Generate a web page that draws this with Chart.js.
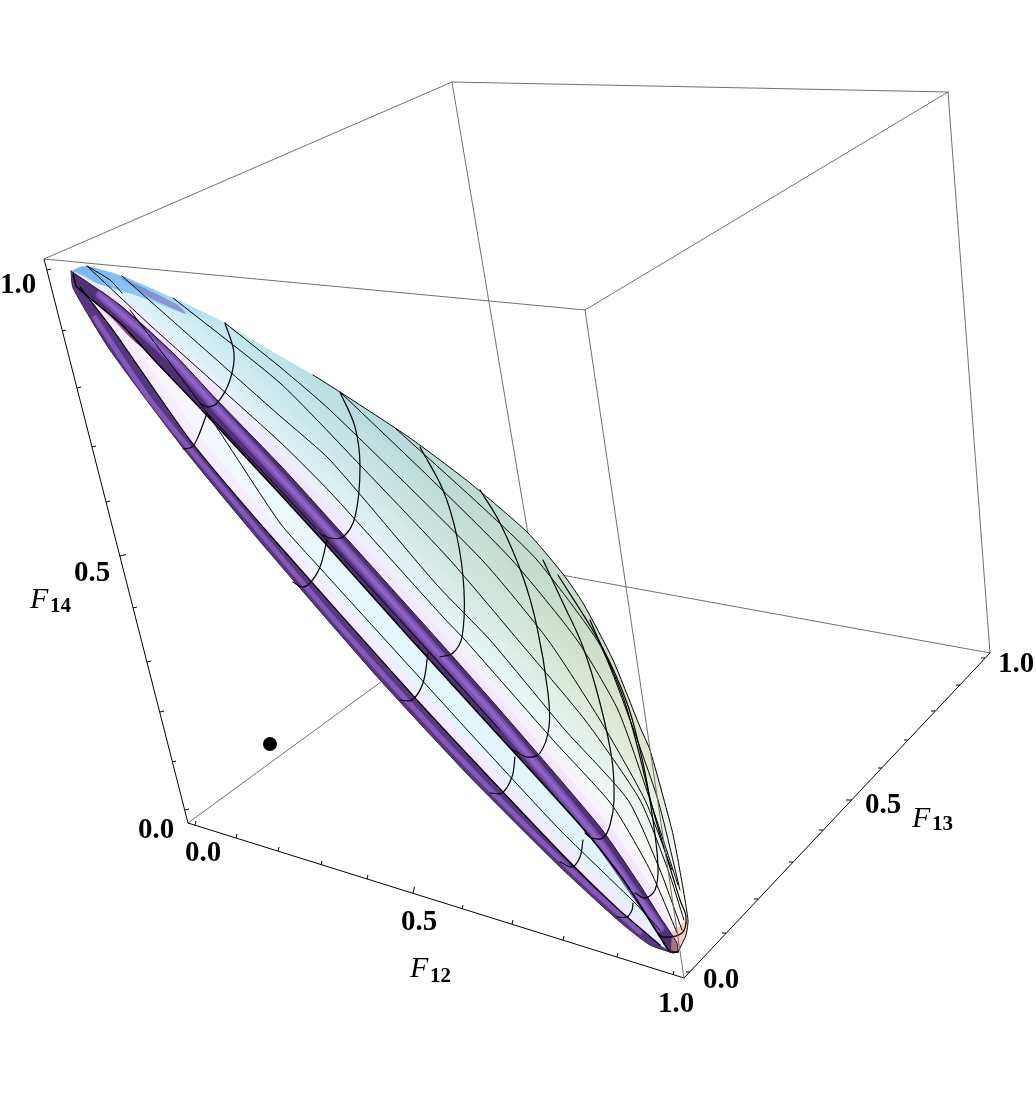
<!DOCTYPE html>
<html>
<head>
<meta charset="utf-8">
<title>F12 F13 F14</title>
<script src="https://cdn.jsdelivr.net/npm/chart.js@4/dist/chart.umd.js"></script>
<style>
html,body{margin:0;padding:0;background:#fff;}
canvas{display:block;}
</style>
</head>
<body>
<canvas id="plot" width="1036" height="1105"></canvas>
<script>
// ===================== DATA (in picture units) =====================
const boxBack=[
  [[44,259],[452,82]],[[452,82],[948,92]],[[948,92],[990,653]],
  [[452,82],[534,570]],[[188,823],[534,570]],[[534,570],[990,653]]
];
const boxFront=[[[44,259],[585,310]],[[585,310],[948,92]],[[585,310],[684,978]]];
const axisF14=[[44,259],[188,823]];
const axisF12=[[188,823],[684,978]];
const axisF13=[[684,978],[990,653]];
const ticksF14=[[47,270],[62,331],[77,388],[92,447],[106,502],[120,556],[133,608],[147,662],[160,712],[172,762],[185,810]];
const ticksF12=[[195,825],[236,838],[278,851],[321,865],[367,879],[413,893],[462,909],[512,924],[563,940],[617,957],[673,975]];
const ticksF13=[[690,972],[726,933],[758,899],[793,862],[823,830],[852,800],[882,768],[908,740],[935,711],[960,685],[985,658]];

const upperEdge=[[71,271],[80,267],[87,266],[122,276],[173,298],[225,323],[263,346],[313,375],[340,392],[410,438],[470,483],[527,532],[563,574],[583,603],[613,660],[640,727],[650,750],[672,830],[678,860],[688,920],[686,935],[678,952]];
const midBandUpper=[[71,271],[120,305],[173,353],[217,400],[280,465],[330,520],[438,640],[500,710],[600,827],[640,885],[660,917],[677,943],[678,952]];
const midBandLower=[[73,273],[77,287],[120,323],[157,363],[200,408],[280,494],[323,541],[408,636],[500,737],[580,825],[620,875],[640,905],[660,937],[670,952],[678,952]];
const midHaloWide=[[85,276],[135,306],[190,352],[235,396],[298,461],[348,516],[456,636],[518,706],[618,823],[655,878],[672,912],[680,940]];
const midHaloNarrow=[[78,273],[128,305],[181,352],[226,398],[289,463],[339,518],[447,638],[509,708],[609,825],[648,882],[666,915],[678,943]];
const midBandStripe=[[100,295],[173,360],[220,412],[280,477],[330,532],[430,644],[500,722],[595,836],[635,893],[660,928]];
const lowBandUpper=[[80,287],[113,330],[190,440],[270,535],[417,700],[470,757],[560,852],[617,908],[660,945]];
const lowBandOuter=[[71,271],[73,288],[110,350],[183,448],[263,545],[380,680],[470,777],[560,867],[620,922],[650,945],[673,953]];
const lowHalo=[[90,295],[123,330],[200,436],[280,531],[427,696],[480,753],[570,848],[625,902],[660,938]];
const lowBandStripe=[[95,318],[150,400],[230,497],[345,632],[445,742],[515,815],[590,888],[640,932]];
const tipBlue=[[72,271],[80,267],[87,266],[122,276],[173,298],[225,323],[180,312],[135,295],[95,283]];
const tipRose=[[71,271],[80,287],[100,322],[120,345],[110,350],[73,288]];
const tipMaroon=[[82,285],[120,312],[157,358],[135,342],[105,312]];
const tipStreak=[[118,276],[140,286],[178,305],[186,314],[150,298]];
const endRose=[[672,932],[688,920],[686,935],[678,952],[671,950]];

// meridians of the surface
const meridians=[
  [[395,428],[480,505],[537,560],[600,645],[630,720],[658,800],[680,890]],
  [[340,392],[430,478],[512,560],[577,640],[618,710],[650,800],[678,885]],
  [[225,323],[280,367],[330,410],[482,560],[548,640],[600,720],[645,800],[672,870]],
  [[173,298],[280,383],[360,465],[450,560],[518,640],[585,720],[640,800],[668,870],[684,920]],
  [[122,276],[280,416],[330,460],[437,585],[490,640],[565,730],[628,800],[660,870],[682,930]],
  [[87,266],[150,325],[280,442],[330,492],[443,617],[465,640],[553,740],[612,805],[650,870],[678,935]],
  [[207,413],[280,490],[330,544],[420,642],[500,730]],
  [[130,310],[207,413],[280,523],[320,568],[440,700],[470,733],[560,830],[635,903],[660,930]],
  [[87,266],[110,280],[122,293]]
];
// cross curves of the surface
const arcs=[
  [[225,323],[234,353],[230,380],[218,402],[208,407],[200,403]],
  [[340,392],[355,427],[360,467],[355,517],[343,537],[330,538],[323,535]],
  [[420,447],[443,490],[457,537],[464,590],[462,637],[453,653],[440,657]],
  [[480,490],[500,523],[523,577],[537,627],[548,693],[549,727],[540,753],[527,757],[510,748]],
  [[543,560],[563,603],[583,647],[600,703],[612,760],[614,800],[610,825],[603,838],[592,838],[585,833]],
  [[558,575],[600,643],[627,703],[643,763],[653,820],[658,867],[655,890],[645,898],[635,893]],
  [[590,620],[625,703],[655,817],[680,900],[686,917],[682,933],[663,937],[657,932]],
  [[207,413],[198,437],[192,447],[183,449]],
  [[327,540],[320,567],[310,583],[302,587],[293,582]],
  [[428,653],[423,683],[412,700],[400,700]],
  [[515,757],[512,777],[502,793],[490,793]],
  [[583,840],[580,857],[572,867],[560,862]],
  [[633,903],[632,910],[627,917],[617,917]]
];
const dotPoint=[[270,744]];

const tickLabels=[
  ['1.0',18,285],['0.5',92,573],['0.0',156,830],
  ['0.0',203,853],['0.5',419,922],['1.0',676,1004],
  ['0.0',721,980],['0.5',883,805],['1.0',1016,664]
];
const axisTitles=[['F','12',410,977,982],['F','13',912,827,830],['F','14',30,608,612]];

// ===================== HELPERS =====================
const GREY='#707070';
const toXY=pts=>pts.map(p=>({x:p[0],y:p[1]}));

function line(pts,color,width,tension){
  return {data:toXY(pts),showLine:true,fill:false,pointRadius:0,borderColor:color,borderWidth:width,tension:tension||0,borderCapStyle:'round',borderJoinStyle:'round'};
}
function area(pts,bg){
  return {data:toXY(pts),showLine:true,fill:'shape',pointRadius:0,borderWidth:0,borderColor:'rgba(0,0,0,0)',backgroundColor:bg,tension:0.2};
}
function grad(p0,p1,stops){
  return c=>{
    const s=c.chart.scales;
    if(!s||!s.x||!c.chart.chartArea) return 'rgba(0,0,0,0)';
    const g=c.chart.ctx.createLinearGradient(s.x.getPixelForValue(p0[0]),s.y.getPixelForValue(p0[1]),s.x.getPixelForValue(p1[0]),s.y.getPixelForValue(p1[1]));
    stops.forEach(st=>g.addColorStop(st[0],st[1]));
    return g;
  };
}
function tickMarks(pts,dx,dy){
  const out=[];
  pts.forEach((p,i)=>{
    const k=i===5?1.5:1;
    out.push({x:p[0],y:p[1]},{x:p[0]+dx*k,y:p[1]+dy*k},{x:NaN,y:NaN});
  });
  return {data:out,showLine:true,fill:false,pointRadius:0,borderColor:'#000',borderWidth:1,spanGaps:false};
}
const between=(a,b)=>a.concat(b.slice().reverse());

// ===================== DATASETS (listed back to front) =====================
const upperLobe=between(upperEdge,midBandUpper);
const lowerLobe=between(midBandLower,lowBandOuter);

const layers=[];
boxBack.forEach(e=>layers.push(line(e,GREY,1)));
layers.push(line(axisF14,'#000',1),line(axisF12,'#000',1),line(axisF13,'#000',1));
layers.push(tickMarks(ticksF14,4,-1),tickMarks(ticksF12,1,-4),tickMarks(ticksF13,-4,0));

// upper lobe: colour along the length, paler towards the band
layers.push(area(upperLobe,grad([70,270],[685,950],[[0,'#7fb9ee'],[0.06,'#a4d6f2'],[0.14,'#b0dfec'],[0.35,'#b6dcdc'],[0.6,'#c6dccc'],[0.8,'#d9dfbe'],[0.94,'#eadfb0'],[1,'#f6c9a0']])));
layers.push(area(upperLobe,grad([350,560],[445,465],[[0,'rgba(255,255,255,0.9)'],[0.22,'rgba(236,250,255,0.8)'],[0.5,'rgba(240,252,255,0.35)'],[0.85,'rgba(255,255,255,0)'],[1,'rgba(255,255,255,0)']])));
layers.push(area(tipBlue,grad([75,268],[225,325],[[0,'#78b4ee'],[0.45,'#8cc8f2'],[1,'rgba(170,222,240,0.2)']])));
layers.push(area(tipStreak,'rgba(120,105,190,0.6)'));
// lower lobe
layers.push(area(lowerLobe,grad([70,270],[680,950],[[0,'#fff2fb'],[0.12,'#fdf2fd'],[0.3,'#eef9fe'],[0.5,'#e5f7fe'],[1,'#dff3fc']])));
layers.push(area(tipRose,'#f4b4dc'));
layers.push(area(tipMaroon,'#9a4488'));
// pale halos beside the bands
layers.push(area(between(midBandUpper,midHaloWide),'rgba(246,234,255,0.5)'));
layers.push(area(between(midBandUpper,midHaloNarrow),'rgba(244,226,255,0.7)'));
layers.push(area(between(lowBandUpper,lowHalo),'rgba(246,232,255,0.8)'));
// tube bands
layers.push(area(between(midBandUpper,midBandLower),'#4f3075'));
layers.push(line(midBandStripe,'#7850ac',9,0.2));
layers.push(line(midBandStripe,'#8f63c6',4,0.2));
layers.push(area(between(lowBandUpper,lowBandOuter),'#573780'));
layers.push(line(lowBandStripe,'#8358b8',5,0.2));
layers.push(area(endRose,'rgba(240,170,150,0.55)'));
// outlines and mesh
layers.push(line(midBandLower,'#000',1.6,0.2));
layers.push(line(midBandUpper,'#1a1028',1,0.2));
layers.push(line(lowBandUpper,'#000',1.2,0.2));
layers.push(line(lowBandOuter,'#3a2258',1,0.2));
meridians.forEach(m=>layers.push(line(m,'#000',1,0.2)));
arcs.forEach(a=>layers.push(line(a,'#000',1.2,0.35)));
layers.push(line(upperEdge.slice(7),'#000',1,0.2));
boxFront.forEach(e=>layers.push(line(e,GREY,1)));
layers.push({data:toXY(dotPoint),showLine:false,pointRadius:7,pointBackgroundColor:'#000',pointBorderWidth:0});

// ===================== TEXT =====================
const textPlugin={
  id:'plotText',
  afterDatasetsDraw(chart){
    const ctx=chart.ctx,sx=chart.scales.x,sy=chart.scales.y;
    ctx.save();
    ctx.fillStyle='#000';
    ctx.textAlign='center';
    ctx.textBaseline='middle';
    ctx.font='bold 29px "Liberation Serif"';
    tickLabels.forEach(t=>ctx.fillText(t[0],sx.getPixelForValue(t[1]),sy.getPixelForValue(t[2])+1));
    ctx.textAlign='left';
    ctx.textBaseline='alphabetic';
    axisTitles.forEach(t=>{
      ctx.font='italic 30px "Liberation Serif"';
      ctx.fillText(t[0],sx.getPixelForValue(t[2]),sy.getPixelForValue(t[3]));
      ctx.font='bold 21px "Liberation Serif"';
      ctx.fillText(t[1],sx.getPixelForValue(t[2])+20,sy.getPixelForValue(t[4]));
    });
    ctx.restore();
  }
};

// ===================== CHART =====================
new Chart(document.getElementById('plot').getContext('2d'),{
  type:'scatter',
  data:{datasets:layers.slice().reverse()}, // chart.js paints the first dataset last
  options:{
    responsive:false,animation:false,devicePixelRatio:1,
    layout:{padding:0,autoPadding:false},
    plugins:{legend:{display:false},tooltip:{enabled:false},filler:{drawTime:'beforeDatasetDraw',propagate:false}},
    scales:{
      x:{type:'linear',display:false,min:0,max:1036},
      y:{type:'linear',display:false,min:0,max:1105,reverse:true}
    }
  },
  plugins:[textPlugin]
});
</script>
</body>
</html>
